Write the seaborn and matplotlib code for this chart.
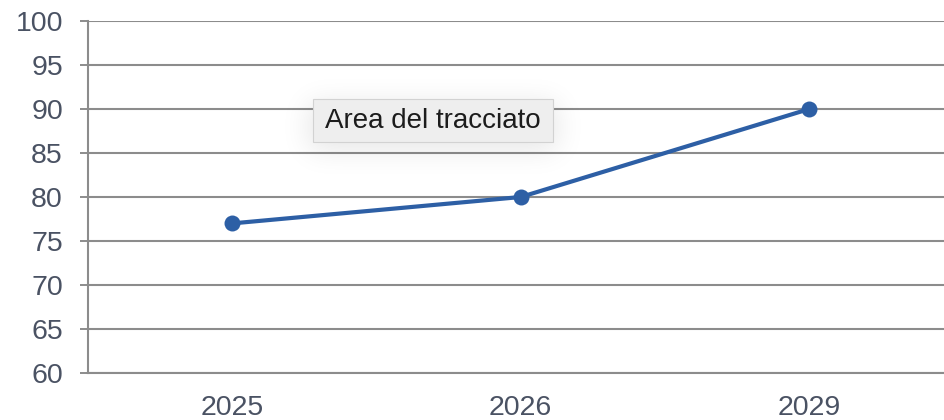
import numpy as np
import pandas as pd
import matplotlib
matplotlib.use("Agg")
import matplotlib.pyplot as plt
from matplotlib.patches import Rectangle
import seaborn as sns

# Data
years = ["2025", "2026", "2029"]
values = [77, 80, 90]
y_ticks = [60, 65, 70, 75, 80, 85, 90, 95, 100]
tooltip_text = "Area del tracciato"

sns.set_theme(style="white")
plt.rcParams["font.family"] = ["Liberation Sans", "DejaVu Sans"]

W, H = 945, 420
fig = plt.figure(figsize=(W / 100, H / 100), dpi=100)
fig.patch.set_facecolor("white")
ax = fig.add_axes([88 / W, 47 / H, 865.5 / W, 352 / H])

grid_c = "#8c8c8c"
label_c = "#4a5263"
line_c = "#2d5fa5"

df = pd.DataFrame({"year": years, "value": values})
sns.lineplot(data=df, x="year", y="value", marker="o", color=line_c,
             linewidth=3.0, markersize=11.5, markeredgewidth=0, sort=False,
             ax=ax, zorder=3)

ax.set_xlim(-0.5, 2.5)
ax.set_ylim(60, 100)
ax.set_yticks(y_ticks)
ax.set_yticklabels([str(v) for v in y_ticks])
ax.set_xlabel("")
ax.set_ylabel("")

# category boundaries carry the tick marks, centres carry the labels
ax.set_xticks([-0.5, 0.5, 1.5, 2.5])
ax.set_xticklabels([])
ax.set_xticks([0, 1, 2], minor=True)
ax.set_xticklabels(years, minor=True)
ax.tick_params(axis="x", which="major", length=6.5, width=1.4, color=grid_c, direction="out")
ax.tick_params(axis="x", which="minor", length=0, pad=15.5, labelsize=20.5, labelcolor=label_c)
ax.tick_params(axis="y", length=6, width=1.4, color=grid_c, direction="out",
               pad=12, labelsize=20.5, labelcolor=label_c, left=True)

ax.yaxis.grid(True, color=grid_c, linewidth=1.5)
ax.xaxis.grid(False)
ax.set_axisbelow(True)
for side in ["top", "right"]:
    ax.spines[side].set_visible(False)
for side in ["left", "bottom"]:
    ax.spines[side].set_color(grid_c)
    ax.spines[side].set_linewidth(1.5)

# Tooltip with soft drop shadow
bx0, by0, bx1, by1 = 313, 99, 553, 142  # pixel box, measured from top
mask = np.zeros((H, W))
mask[by0 + 4:by1 + 8, bx0 - 4:bx1 + 4] = 1.0
sigma = 14
k = np.arange(-3 * sigma, 3 * sigma + 1)
kern = np.exp(-k ** 2 / (2 * sigma ** 2))
kern /= kern.sum()
blur = np.apply_along_axis(lambda r: np.convolve(r, kern, mode="same"), 1, mask)
blur = np.apply_along_axis(lambda c: np.convolve(c, kern, mode="same"), 0, blur)
shadow = np.zeros((H, W, 4))
shadow[..., 3] = blur * 0.10
fig.figimage(shadow, xo=0, yo=0, origin="upper", zorder=4)

fig.add_artist(Rectangle((bx0 / W, 1 - by1 / H), (bx1 - bx0) / W, (by1 - by0) / H,
                         transform=fig.transFigure, facecolor="#eeeeee",
                         edgecolor="#d2d2d2", linewidth=0.8, zorder=5))
fig.text((bx0 + bx1) / 2 / W, 1 - (by0 + by1) / 2 / H, tooltip_text,
         ha="center", va="center", fontsize=20, color="#1c1c1c", zorder=6)

fig.savefig("out.png", dpi=100)
